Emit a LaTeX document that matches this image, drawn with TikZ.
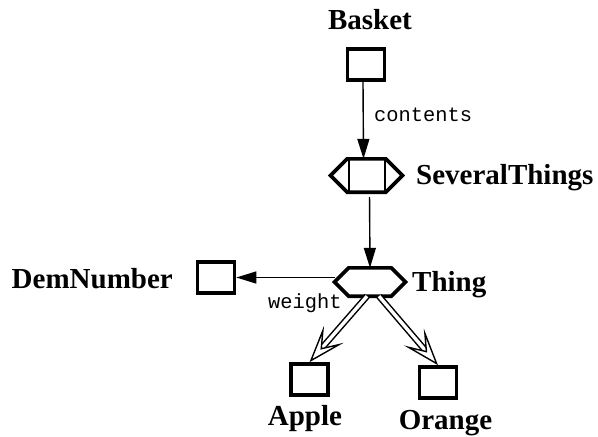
\documentclass[tikz,border=0pt]{standalone}
\usepackage{fontspec}
\setmainfont{Liberation Serif}
\setmonofont{Liberation Mono}
\usetikzlibrary{arrows.meta, decorations.markings}

\begin{document}
\begin{tikzpicture}[x=1pt, y=-1pt,
  classbox/.style={rectangle, draw, line width=3.6pt, minimum width=37pt, minimum height=31pt, inner sep=0pt},
  hexbox/.style={rectangle, inner sep=0pt, outer sep=0pt},
  hexline/.style={line width=3.6pt, line join=miter},
  classlabel/.style={inner sep=0pt, font=\bfseries\fontsize{29}{30}\selectfont},
  rolelabel/.style={inner sep=0pt, font=\ttfamily\fontsize{20.4}{22}\selectfont},
  refarrow/.style={line width=1.4pt, -{Triangle[length=20pt, width=12pt]}},
  subshaft/.style={double, double distance=3.4pt, line width=1.5pt, shorten >=14pt},
  subhead/.style={postaction={decorate}, decoration={markings, mark=at position 1 with {\arrow[line width=1.4pt]{Stealth[fill=white, length=37pt, width=26pt, inset=18pt]}}}}]
  \useasboundingbox (0,0) rectangle (598,437);

  % classes
  \node[classbox] (basket) at (366,64.5) {};
  \node[hexbox, minimum width=72pt, minimum height=33.4pt] (sev) at (366.5,175.5) {};
  \draw[hexline] (sev.west) -- ([xshift=16.7pt]sev.north west) -- ([xshift=-16.7pt]sev.north east)
    -- (sev.east) -- ([xshift=-16.7pt]sev.south east) -- ([xshift=16.7pt]sev.south west) -- cycle;
  \draw[line width=2pt] ([xshift=-18pt]sev.north) -- ([xshift=-18pt]sev.south)
    ([xshift=18pt]sev.north) -- ([xshift=18pt]sev.south);
  \node[hexbox, minimum width=71pt, minimum height=28.4pt] (thing) at (370,282) {};
  \draw[hexline] (thing.west) -- ([xshift=14.2pt]thing.north west) -- ([xshift=-14.2pt]thing.north east)
    -- (thing.east) -- ([xshift=-14.2pt]thing.south east) -- ([xshift=14.2pt]thing.south west) -- cycle;
  \node[classbox] (dem) at (216,277.5) {};
  \node[classbox] (apple) at (309.5,379.5) {};
  \node[classbox] (orange) at (438,382.5) {};

  % names
  \node[classlabel, anchor=base] (lbasket) at (370,29.5) {Basket};
  \node[classlabel, anchor=base west] (lsev) at (416,184) {SeveralThings};
  \node[classlabel, anchor=base west] (lthing) at (412,291) {Thing};
  \node[classlabel, anchor=base east] (ldem) at (173,288) {DemNumber};
  \node[classlabel, anchor=base] (lapple) at (305,425) {Apple};
  \node[classlabel, anchor=base] (lorange) at (445.5,429) {Orange};
  \node[rolelabel, anchor=base west] (lcontents) at (374,121) {contents};
  \node[rolelabel, anchor=base west] (lweight) at (268,308) {weight};

  % references
  \draw[refarrow] ([xshift=-3pt]basket.south) -- ([xshift=-3pt]sev.north);
  \draw[refarrow, shorten <=5pt] ([xshift=3pt]sev.south) -- (thing.north);
  \draw[refarrow] (thing.west |- dem.east) -- (dem.east);

  % subclasses
  \draw[subshaft] ([xshift=-3pt]thing.south) -- (apple.north);
  \path[subhead] ([xshift=-3pt]thing.south) -- (apple.north);
  \draw[subshaft] ([xshift=9pt]thing.south) -- (orange.north);
  \path[subhead] ([xshift=9pt]thing.south) -- (orange.north);
\end{tikzpicture}
\end{document}
